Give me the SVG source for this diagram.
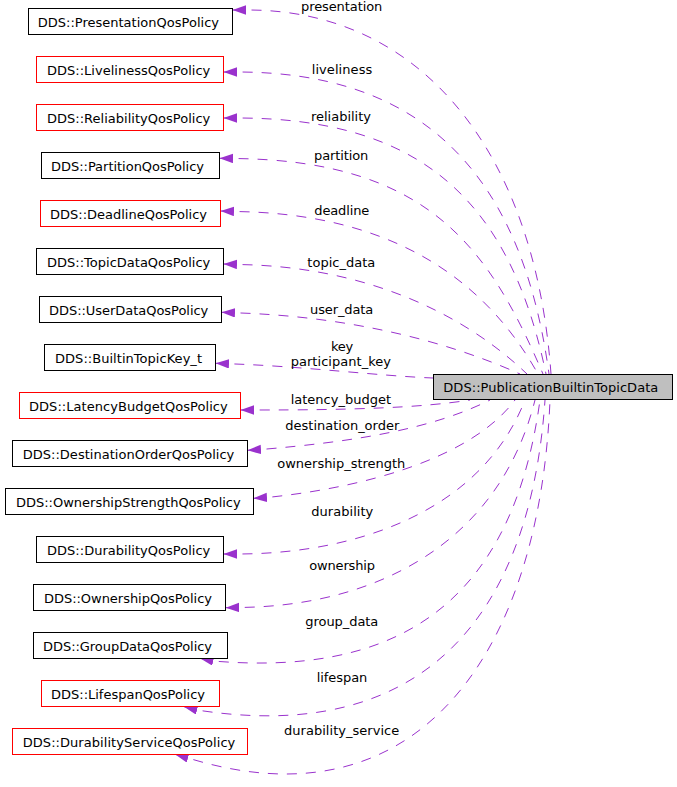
<svg xmlns="http://www.w3.org/2000/svg" width="677" height="787" viewBox="0 0 677 787">
<style>
  text { font-family: "DejaVu Sans", "Liberation Sans", sans-serif; font-size: 13px; fill: #000000; }
  .node rect { fill: #ffffff; stroke: #000000; stroke-width: 1; }
  .node.red rect { stroke: #ff0000; }
  .node.main rect { fill: #bfbfbf; stroke: #000000; }
  .edge { fill: none; stroke: #9a32cd; stroke-width: 1; stroke-dasharray: 10 9; marker-start: url(#arr); }
</style>
<defs>
  <marker id="arr" markerUnits="userSpaceOnUse" markerWidth="14" markerHeight="10" refX="13.5" refY="4.7" orient="auto-start-reverse">
    <path d="M0,0 L13.5,4.7 L0,9.4 z" fill="#9a32cd" stroke="none"/>
  </marker>
</defs>
<rect x="0" y="0" width="677" height="787" fill="#ffffff"/>

<g id="connectors">
  <path class="edge" d="M232.5,10 L248,10 C420,10 535,150 551,374"/>
  <path class="edge" d="M223.5,72 L237,72 C410,72 520,160 549,374"/>
  <path class="edge" d="M223.5,118 L237,118 C420,118 510,200 546,374"/>
  <path class="edge" d="M219.5,158.3 L233,158.5 C430,160 490,250 543,374"/>
  <path class="edge" d="M220.5,211 L234,211.5 C380,213 480,270 538,374"/>
  <path class="edge" d="M223.5,264 L237,264.5 C360,266 460,310 527,374"/>
  <path class="edge" d="M221.5,312.3 L235,312.8 C340,316 440,338 520,374"/>
  <path class="edge" d="M215.5,363.3 L229,363.8 C300,366 380,376 433,378"/>
  <path class="edge" d="M240.5,410 L254,410 C350,410 420,408 470,400"/>
  <path class="edge" d="M247.5,450.3 L261,449.5 C350,442 430,430 490,400"/>
  <path class="edge" d="M253.5,498.3 L267,497.5 C360,488 470,460 515,400"/>
  <path class="edge" d="M223.5,554 L237,554 C350,554 480,515 525,400"/>
  <path class="edge" d="M225.7,607.7 L239,607.5 C380,606 500,540 535,400"/>
  <path class="edge" d="M200,658.3 L213,661 C380,675 510,620 540,400"/>
  <path class="edge" d="M184,706.7 L197,710 C420,745 530,620 545,400"/>
  <path class="edge" d="M175,754.3 L188,758 C420,830 540,650 550,400"/>

  <text x="301" y="11" textLength="81.3" lengthAdjust="spacing">presentation</text>
  <text x="311.7" y="74" textLength="60.6" lengthAdjust="spacing">liveliness</text>
  <text x="311" y="120.7" textLength="60" lengthAdjust="spacing">reliability</text>
  <text x="314" y="160.3" textLength="54.3" lengthAdjust="spacing">partition</text>
  <text x="314.3" y="215" textLength="55" lengthAdjust="spacing">deadline</text>
  <text x="307.3" y="266.7" textLength="68" lengthAdjust="spacing">topic_data</text>
  <text x="310" y="313.7" textLength="63.3" lengthAdjust="spacing">user_data</text>
  <text x="331" y="351" textLength="22.3" lengthAdjust="spacing">key</text>
  <text x="290.7" y="366" textLength="100.3" lengthAdjust="spacing">participant_key</text>
  <text x="290.7" y="404" textLength="100.3" lengthAdjust="spacing">latency_budget</text>
  <text x="285.3" y="430" textLength="114" lengthAdjust="spacing">destination_order</text>
  <text x="277.3" y="467.7" textLength="128" lengthAdjust="spacing">ownership_strength</text>
  <text x="311.3" y="516" textLength="62" lengthAdjust="spacing">durability</text>
  <text x="309.3" y="569.5" textLength="65.7" lengthAdjust="spacing">ownership</text>
  <text x="305.3" y="626" textLength="73" lengthAdjust="spacing">group_data</text>
  <text x="316.7" y="682" textLength="50.6" lengthAdjust="spacing">lifespan</text>
  <text x="284" y="735" textLength="115.3" lengthAdjust="spacing">durability_service</text>
</g>

<g id="PresentationQosPolicy" class="node"><rect x="28.5" y="8.5" width="204" height="26"/><text x="37.7" y="26.5" textLength="181.3" lengthAdjust="spacing">DDS::PresentationQosPolicy</text></g>
<g id="LivelinessQosPolicy" class="node red"><rect x="36.5" y="56.5" width="187" height="26"/><text x="47" y="74.5" textLength="163.3" lengthAdjust="spacing">DDS::LivelinessQosPolicy</text></g>
<g id="ReliabilityQosPolicy" class="node red"><rect x="36.5" y="104.5" width="187" height="26"/><text x="47" y="122.5" textLength="163.3" lengthAdjust="spacing">DDS::ReliabilityQosPolicy</text></g>
<g id="PartitionQosPolicy" class="node"><rect x="41.5" y="152.5" width="178" height="26"/><text x="51" y="170.5" textLength="153" lengthAdjust="spacing">DDS::PartitionQosPolicy</text></g>
<g id="DeadlineQosPolicy" class="node red"><rect x="40.5" y="200.5" width="180" height="26"/><text x="50" y="218.5" textLength="157" lengthAdjust="spacing">DDS::DeadlineQosPolicy</text></g>
<g id="TopicDataQosPolicy" class="node"><rect x="36.5" y="248.5" width="187" height="26"/><text x="47" y="266.5" textLength="163.3" lengthAdjust="spacing">DDS::TopicDataQosPolicy</text></g>
<g id="UserDataQosPolicy" class="node"><rect x="39.5" y="296.5" width="182" height="26"/><text x="49" y="314.5" textLength="159.3" lengthAdjust="spacing">DDS::UserDataQosPolicy</text></g>
<g id="BuiltinTopicKey_t" class="node"><rect x="44.5" y="344.5" width="171" height="26"/><text x="55" y="362.5" textLength="147" lengthAdjust="spacing">DDS::BuiltinTopicKey_t</text></g>
<g id="LatencyBudgetQosPolicy" class="node red"><rect x="19.5" y="392.5" width="221" height="26"/><text x="29" y="410.5" textLength="198.7" lengthAdjust="spacing">DDS::LatencyBudgetQosPolicy</text></g>
<g id="DestinationOrderQosPolicy" class="node"><rect x="12.5" y="440.5" width="235" height="26"/><text x="22.7" y="458.5" textLength="211.6" lengthAdjust="spacing">DDS::DestinationOrderQosPolicy</text></g>
<g id="OwnershipStrengthQosPolicy" class="node"><rect x="5.5" y="488.5" width="248" height="26"/><text x="16" y="506.5" textLength="224.7" lengthAdjust="spacing">DDS::OwnershipStrengthQosPolicy</text></g>
<g id="DurabilityQosPolicy" class="node"><rect x="36.5" y="536.5" width="187" height="26"/><text x="47" y="554.5" textLength="163.3" lengthAdjust="spacing">DDS::DurabilityQosPolicy</text></g>
<g id="OwnershipQosPolicy" class="node"><rect x="33.5" y="584.5" width="192" height="26"/><text x="44" y="602.5" textLength="168" lengthAdjust="spacing">DDS::OwnershipQosPolicy</text></g>
<g id="GroupDataQosPolicy" class="node"><rect x="33.5" y="632.5" width="194" height="26"/><text x="43" y="650.5" textLength="169" lengthAdjust="spacing">DDS::GroupDataQosPolicy</text></g>
<g id="LifespanQosPolicy" class="node red"><rect x="41.5" y="680.5" width="178" height="26"/><text x="51" y="698.5" textLength="154" lengthAdjust="spacing">DDS::LifespanQosPolicy</text></g>
<g id="DurabilityServiceQosPolicy" class="node red"><rect x="12.5" y="728.5" width="235" height="26"/><text x="22.7" y="746.5" textLength="212.6" lengthAdjust="spacing">DDS::DurabilityServiceQosPolicy</text></g>
<g id="PublicationBuiltinTopicData" class="node main"><rect x="433.5" y="374.5" width="239" height="25"/><text x="443.3" y="391.5" textLength="215" lengthAdjust="spacing">DDS::PublicationBuiltinTopicData</text></g>
</svg>
